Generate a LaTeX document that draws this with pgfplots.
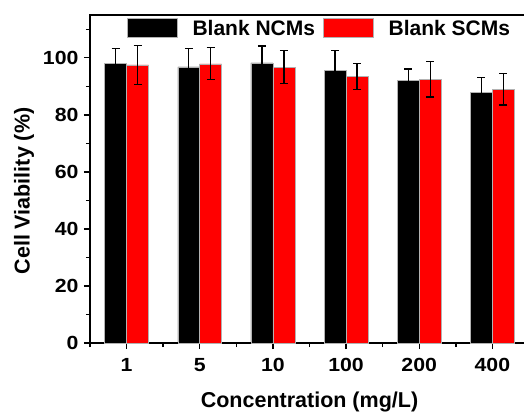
\documentclass[border=0pt]{standalone}
\usepackage{fontspec}
\setmainfont{Liberation Sans}
\newfontfamily\tickfont{Liberation Sans}[FakeStretch=1.12]
\usepackage{pgfplots}
\pgfplotsset{compat=1.18}
\begin{document}
\begin{tikzpicture}
\useasboundingbox (-90bp,-69bp) rectangle (434bp,343bp);
\clip (-90bp,-69bp) rectangle (434bp,343bp);
\begin{axis}[
  scale only axis,
  width=439bp, height=328bp,
  xmin=-0.5, xmax=5.5, ymin=0, ymax=115,
  ybar=0pt, bar width=0.3,
  axis line style={line width=1.6bp},
  xtick={0,1,2,3,4,5},
  xticklabels={1,5,10,100,200,400},
  minor xtick={-0.5,0.5,1.5,2.5,3.5,4.5},
  ytick={0,20,40,60,80,100},
  minor ytick={10,30,50,70,90,110},
  tick align=outside,
  xtick pos=bottom, ytick pos=left,
  major tick length=6bp, minor tick length=4bp,
  every tick/.style={black, line width=1.4bp},
  /pgf/number format/assume math mode=true,
  tick label style={font=\fontsize{19bp}{22bp}\selectfont\tickfont\bfseries},
  xticklabel style={anchor=base, yshift=-22bp},
  yticklabel style={anchor=east, xshift=-2bp},
  xlabel={Concentration (mg/L)},
  ylabel={Cell Viability (\%)},
  label style={font=\fontsize{21.5bp}{24bp}\selectfont\bfseries},
  xlabel style={at={(axis description cs:0.5,-0.198)}, anchor=base},
  ylabel style={at={(axis description cs:-0.1503,0.4634)}, anchor=center},
  legend columns=2,
  legend style={at={(0.084,0.992)}, anchor=north west, draw=none, fill=none,
    inner sep=0pt, font=\fontsize{21bp}{24bp}\selectfont\bfseries,
    nodes={inner sep=0pt, text depth=0pt},
    /tikz/every even column/.append style={column sep=8bp},
    /tikz/every odd column/.append style={column sep=15bp}},
  legend image code/.code={\draw[#1, draw=gray!60, line width=0.5bp] (0bp,-9.5bp) rectangle (50bp,9.5bp);},
  error bars/y dir=both, error bars/y explicit,
  error bars/error bar style={black, line width=1.4bp},
  error bars/error mark options={black, rotate=90, mark size=4bp, line width=1.4bp},
]
\addplot[fill=black, draw=gray!60, line width=0.5bp]
  coordinates {(0,98.1) +- (0,5.2) (1,96.8) +- (0,6.5) (2,98.2) +- (0,5.9)
               (3,95.5) +- (0,7.0) (4,92.0) +- (0,4.1) (5,87.8) +- (0,5.3)};
\addplot[fill=red, draw=gray!60, line width=0.5bp]
  coordinates {(0,97.5) +- (0,6.8) (1,97.9) +- (0,5.6) (2,96.7) +- (0,5.8)
               (3,93.4) +- (0,4.6) (4,92.5) +- (0,6.2) (5,88.9) +- (0,5.5)};
\legend{Blank NCMs, Blank SCMs}
\end{axis}
\end{tikzpicture}
\end{document}
